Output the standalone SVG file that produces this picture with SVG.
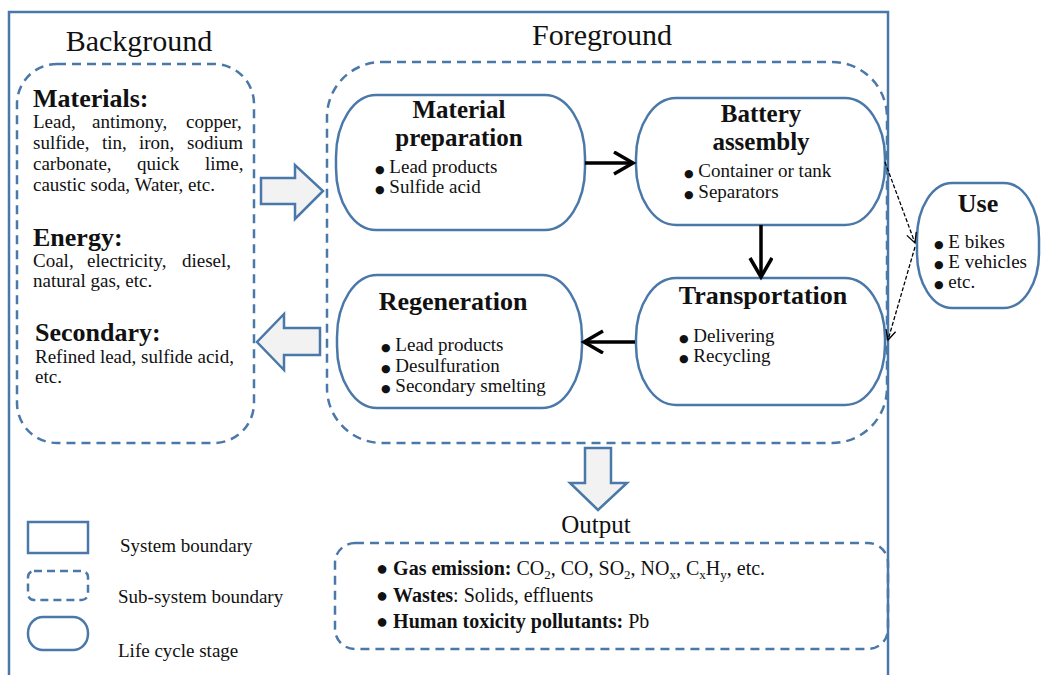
<svg xmlns="http://www.w3.org/2000/svg" width="1041" height="675" viewBox="0 0 1041 675">
<style>
.bl{fill:none;stroke:#4a78a8;stroke-width:2.5}
.node{fill:#fff;stroke:#4a78a8;stroke-width:2.5}
.dash{fill:none;stroke:#4a78a8;stroke-width:2.5;stroke-dasharray:9 6}
.blk{fill:#f2f2f2;stroke:#4a78a8;stroke-width:2.5;stroke-linejoin:miter}
text{font-family:"Liberation Serif","Times New Roman",serif;fill:#111}
.hd{font-size:30px}
.ti{font-size:26px;font-weight:bold;text-anchor:middle}
.t2{font-size:25px}
.bh{font-size:26px;font-weight:bold}
.tx{font-size:19px}
.ot{font-size:20px}
.b{font-size:11px;font-family:"DejaVu Sans",sans-serif}
.arr{stroke:#000;stroke-width:3.5;fill:none}
.darr{stroke:#000;stroke-width:1.3;fill:none;stroke-dasharray:4 2}
</style>
<defs>
<marker id="ah" markerUnits="userSpaceOnUse" markerWidth="26" markerHeight="28" refX="20" refY="12" orient="auto">
<path d="M1,1 L20,12 L1,23" fill="none" stroke="#000" stroke-width="3.5"/>
</marker>
<marker id="dh" markerUnits="userSpaceOnUse" markerWidth="14" markerHeight="14" refX="11" refY="6" orient="auto">
<path d="M1,1 L11,6 L1,11" fill="none" stroke="#000" stroke-width="1.3"/>
</marker>
</defs>

<g id="system-boundary">
<rect class="bl" x="9" y="12" width="879" height="680"/>
</g>

<g id="background">
<rect class="dash" x="17" y="64" width="237" height="379" rx="40" ry="40"/>
<text class="hd" x="139" y="51" text-anchor="middle">Background</text>
<text class="bh" x="33" y="107">Materials:</text>
<text class="tx" y="128"><tspan x="33">Lead,</tspan><tspan x="92">antimony,</tspan><tspan x="186">copper,</tspan></text>
<text class="tx" y="149"><tspan x="33">sulfide,</tspan><tspan x="102">tin,</tspan><tspan x="139">iron,</tspan><tspan x="187">sodium</tspan></text>
<text class="tx" y="170"><tspan x="33">carbonate,</tspan><tspan x="137">quick</tspan><tspan x="205">lime,</tspan></text>
<text class="tx" x="33" y="191">caustic soda, Water, etc.</text>
<text class="bh" x="33" y="246">Energy:</text>
<text class="tx" y="267"><tspan x="33">Coal,</tspan><tspan x="87">electricity,</tspan><tspan x="182">diesel,</tspan></text>
<text class="tx" x="33" y="287">natural gas, etc.</text>
<text class="bh" x="35" y="341">Secondary:</text>
<text class="tx" x="35" y="363">Refined lead, sulfide acid,</text>
<text class="tx" x="35" y="383">etc.</text>
</g>

<g id="foreground">
<rect class="dash" x="327" y="62" width="560" height="381" rx="55" ry="55"/>
<text class="hd" x="602" y="45" text-anchor="middle">Foreground</text>
</g>

<g id="material-preparation">
<rect class="node" x="336" y="95" width="249" height="135" rx="40" ry="62"/>
<text class="ti t2" x="459" y="118">Material</text>
<text class="ti t2" x="459" y="146">preparation</text>
<text class="tx" x="375" y="173"><tspan class="b">●</tspan> Lead products</text>
<text class="tx" x="375" y="193"><tspan class="b">●</tspan> Sulfide acid</text>
</g>

<g id="battery-assembly">
<rect class="node" x="636" y="98" width="249" height="127" rx="40" ry="60"/>
<text class="ti t2" x="761" y="122">Battery</text>
<text class="ti t2" x="761" y="150">assembly</text>
<text class="tx" x="684" y="177"><tspan class="b">●</tspan> Container or tank</text>
<text class="tx" x="684" y="198"><tspan class="b">●</tspan> Separators</text>
</g>

<g id="transportation">
<rect class="node" x="636" y="278" width="249" height="127" rx="40" ry="60"/>
<text class="ti" x="763" y="304">Transportation</text>
<text class="tx" x="679" y="342"><tspan class="b">●</tspan> Delivering</text>
<text class="tx" x="679" y="362"><tspan class="b">●</tspan> Recycling</text>
</g>

<g id="regeneration">
<rect class="node" x="337" y="275" width="245" height="133" rx="40" ry="62"/>
<text class="ti" x="453" y="310">Regeneration</text>
<text class="tx" x="381" y="351"><tspan class="b">●</tspan> Lead products</text>
<text class="tx" x="381" y="372"><tspan class="b">●</tspan> Desulfuration</text>
<text class="tx" x="381" y="392"><tspan class="b">●</tspan> Secondary smelting</text>
</g>

<g id="use">
<rect class="node" x="917" y="183" width="122" height="125" rx="35" ry="55"/>
<text class="ti" x="978" y="212">Use</text>
<text class="tx" x="934" y="248"><tspan class="b">●</tspan> E bikes</text>
<text class="tx" x="934" y="268"><tspan class="b">●</tspan> E vehicles</text>
<text class="tx" x="934" y="288"><tspan class="b">●</tspan> etc.</text>
</g>

<g id="output">
<rect class="dash" x="335" y="543" width="553" height="106" rx="20" ry="20"/>
<text x="596" y="533" font-size="25" text-anchor="middle">Output</text>
<text class="ot" x="376" y="575">● <tspan font-weight="bold">Gas emission:</tspan> CO<tspan font-size="13" dy="4">2</tspan><tspan dy="-4">, CO, SO</tspan><tspan font-size="13" dy="4">2</tspan><tspan dy="-4">, NO</tspan><tspan font-size="13" dy="4">x</tspan><tspan dy="-4">, C</tspan><tspan font-size="13" dy="4">x</tspan><tspan dy="-4">H</tspan><tspan font-size="13" dy="4">y</tspan><tspan dy="-4">, etc.</tspan></text>
<text class="ot" x="376" y="602">● <tspan font-weight="bold">Wastes</tspan>: Solids, effluents</text>
<text class="ot" x="376" y="628">● <tspan font-weight="bold">Human toxicity pollutants:</tspan> Pb</text>
</g>

<g id="legend">
<rect class="bl" x="28" y="522" width="60" height="31"/>
<text class="tx" x="120" y="552">System boundary</text>
<rect class="dash" x="28" y="571" width="60" height="29" rx="6" ry="6" style="stroke-dasharray:8 5"/>
<text class="tx" x="118" y="603">Sub-system boundary</text>
<rect class="node" x="28" y="617" width="60" height="33" rx="15" ry="16"/>
<text class="tx" x="118" y="657">Life cycle stage</text>
</g>

<g id="connectors">
<path class="blk" d="M261,178 L295,178 L295,165 L323,191 L295,219 L295,204 L261,204 Z"/>
<path class="blk" d="M320,328 L284,328 L284,314 L257,342 L284,370 L284,355 L320,355 Z"/>
<path class="blk" d="M585,448 L611,448 L611,483 L627,483 L598,510 L570,483 L585,483 Z"/>
<line class="arr" x1="585" y1="163" x2="633" y2="163" marker-end="url(#ah)"/>
<line class="arr" x1="761" y1="225" x2="761" y2="277" marker-end="url(#ah)"/>
<line class="arr" x1="635" y1="342" x2="584" y2="342" marker-end="url(#ah)"/>
<line class="darr" x1="885" y1="162" x2="915" y2="243" marker-end="url(#dh)"/>
<line class="darr" x1="915" y1="247" x2="888" y2="340" marker-end="url(#dh)"/>
</g>
</svg>
